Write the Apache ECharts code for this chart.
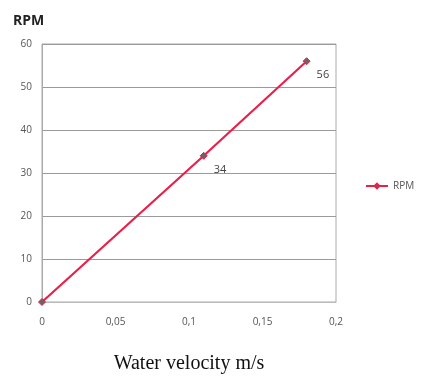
<!DOCTYPE html>
<html>
<head>
<meta charset="utf-8">
<script src="https://cdn.jsdelivr.net/npm/echarts@6/dist/echarts.min.js"></script>
<style>
  html, body { margin: 0; padding: 0; background: #fff; }
  #chart { width: 421px; height: 378px; }
</style>
</head>
<body>
<div id="chart"></div>
<script>
// Water velocity (m/s) against rotor speed (RPM)
const velocity = [0, 0.11, 0.18];
const rpm = [0, 34, 56];
const seriesName = 'RPM';
const yTitle = 'RPM';
const xTitle = 'Water velocity m/s';

const chart = echarts.init(document.getElementById('chart'));
const fmtComma = v => String(v).replace('.', ',');

chart.setOption({
  backgroundColor: '#fff',
  animation: false,
  title: {
    text: yTitle,
    left: 8, top: 9,
    textStyle: { fontFamily: 'Open Sans', fontSize: 14, fontWeight: 'bold', color: '#222' }
  },
  legend: {
    data: [{ name: seriesName }],
    orient: 'vertical',
    left: 360, top: 176,
    itemWidth: 22, itemHeight: 6,
    itemGap: 4,
    textStyle: { fontFamily: 'Open Sans', fontSize: 10, color: '#555' }
  },
  grid: {
    left: 42, right: 85, top: 44, bottom: 76,
    outerBoundsMode: 'none',
    containLabel: false,
    show: true, borderColor: '#aaa', borderWidth: 1
  },
  xAxis: {
    type: 'value',
    min: 0, max: 0.2, interval: 0.05,
    name: xTitle,
    nameLocation: 'middle',
    nameGap: 52,
    nameTextStyle: { fontFamily: 'Liberation Serif', fontSize: 20, color: '#111' },
    axisLine: { show: true, lineStyle: { color: '#bbb' } },
    axisTick: { show: false },
    splitLine: { show: false },
    axisLabel: { formatter: fmtComma, fontFamily: 'Open Sans', fontSize: 10, color: '#555', margin: 15 }
  },
  yAxis: {
    type: 'value',
    min: 0, max: 60, interval: 10,
    axisLine: { show: true, lineStyle: { color: '#aaa' } },
    axisTick: { show: false },
    splitLine: { show: true, lineStyle: { color: '#9a9a9a', width: 1 } },
    axisLabel: { fontFamily: 'Open Sans', fontSize: 10, color: '#555', margin: 10 }
  },
  series: [{
    name: seriesName,
    type: 'line',
    data: velocity.map((v, i) => [v, rpm[i]]),
    symbol: 'diamond',
    symbolSize: 7,
    showAllSymbol: true,
    lineStyle: { color: '#e8204a', width: 2.2 },
    itemStyle: { color: '#666', borderColor: '#e8204a', borderWidth: 1 },
    label: {
      show: true,
      position: 'right',
      offset: [1, 14],
      formatter: p => p.value[1] === 0 ? '' : String(p.value[1]),
      fontFamily: 'Open Sans', fontSize: 11, color: '#444'
    }
  }]
});
</script>
</body>
</html>
